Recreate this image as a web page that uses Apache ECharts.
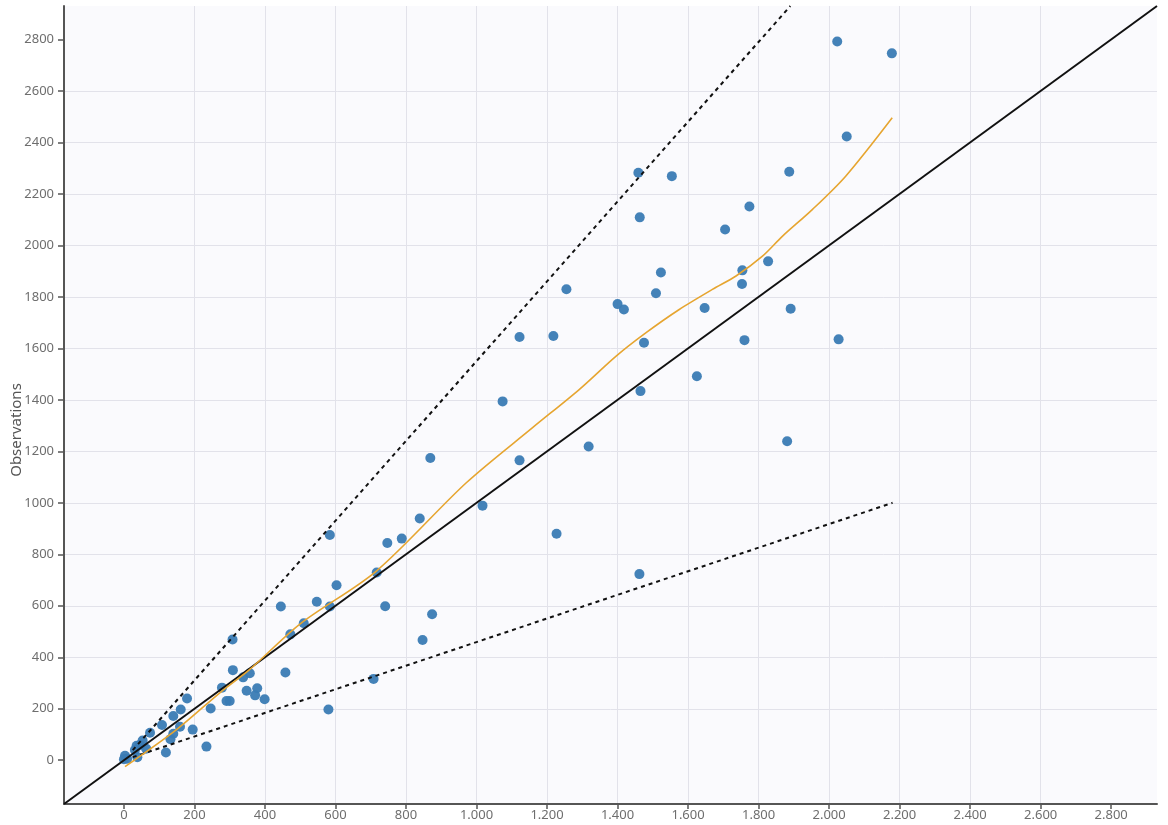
<!DOCTYPE html>
<html>
<head>
<meta charset="utf-8">
<script src="https://cdn.jsdelivr.net/npm/echarts/dist/echarts.min.js"></script>
<style>
html,body{margin:0;padding:0;background:#ffffff;}
#chart{width:1168px;height:825px;}
</style>
</head>
<body>
<div id="chart"></div>
<script>
// Axis settings
const axisMin = -170;
const axisMax = 2930;
const tickValues = [0,200,400,600,800,1000,1200,1400,1600,1800,2000,2200,2400,2600,2800];

// Scatter points: [prediction, observation]
const observations = [
  [2023,2792],[2178,2746],[2050,2423],[1459,2282],[1554,2269],[1887,2286],
  [1774,2151],[1463,2109],[1705,2062],[1827,1938],[1523,1895],[1754,1903],
  [1753,1850],[1255,1830],[1509,1814],[1400,1772],[1418,1751],[1647,1757],
  [1891,1754],[1122,1644],[1218,1648],[1475,1622],[1760,1632],[2027,1635],
  [1625,1492],[1465,1434],[1074,1394],[1318,1219],[1881,1239],[1122,1165],
  [869,1174],[1017,989],[1227,880],[1462,723],[584,875],[747,844],
  [788,861],[839,939],[717,729],[603,680],[547,616],[584,597],
  [741,598],[874,567],[510,532],[847,467],[708,316],[445,597],
  [472,489],[458,341],[580,197],[308,469],[309,350],[357,338],
  [338,322],[378,280],[348,270],[372,252],[399,237],[278,282],
  [291,230],[300,230],[246,201],[179,240],[161,197],[140,172],
  [108,137],[159,130],[195,119],[140,103],[132,82],[119,30],
  [234,53],[74,107],[53,77],[45,59],[36,56],[31,40],
  [38,12],[3,17],[9,6],[0,4],[63,45]
];

// Reference lines
const identityLine = [[-170,-170],[2930,2930]];
const upperBound = [[25,39],[1890,2930]];
const lowerBound = [[25,12],[2180,1000]];

// Smoothed trend (loess-like)
const trendLine = [
  [3,-25],[150,120],[272,262],[357,353],[500,530],[716,735],[971,1078],
  [1159,1292],[1292,1441],[1396,1570],[1481,1661],[1575,1751],[1669,1829],
  [1736,1881],[1811,1958],[1868,2036],[1953,2140],[2047,2269],[2179,2496]
];

function fmtThousands(v){
  return String(v).replace(/\B(?=(\d{3})+(?!\d))/g, '.');
}

const labelStyle = {color:'#6e6e6e', fontSize:13, fontFamily:'Noto Sans'};

const chart = echarts.init(document.getElementById('chart'), null, {renderer:'canvas'});
chart.setOption({
  animation:false,
  backgroundColor:'#ffffff',
  grid:{left:64,right:11,top:6,bottom:21,containLabel:false,outerBoundsMode:'none',show:true,backgroundColor:'#fafafd',borderWidth:0},
  xAxis:{
    type:'value', min:axisMin, max:axisMax,
    axisLine:{show:true,onZero:false,lineStyle:{color:'#555555',width:2}},
    axisTick:{show:true,length:5,customValues:tickValues,lineStyle:{color:'#555555',width:1.5}},
    axisLabel:Object.assign({margin:5,customValues:tickValues,formatter:v=>fmtThousands(v)},labelStyle),
    splitLine:{show:true,showMinLine:false,showMaxLine:false,lineStyle:{color:'#e2e2ea',width:1}}
  },
  yAxis:{
    type:'value', min:axisMin, max:axisMax,
    name:'Observations', nameLocation:'middle', nameGap:40, nameRotate:90, nameMoveOverlap:false,
    nameTextStyle:{color:'#555555',fontSize:15,fontFamily:'Noto Sans',padding:[0,50,0,0]},
    axisLine:{show:true,onZero:false,lineStyle:{color:'#555555',width:2}},
    axisTick:{show:true,length:6,customValues:tickValues,lineStyle:{color:'#555555',width:1.5}},
    axisLabel:Object.assign({margin:10,customValues:tickValues,formatter:v=>String(v)},labelStyle),
    splitLine:{show:true,showMinLine:false,showMaxLine:false,lineStyle:{color:'#e2e2ea',width:1}}
  },
  series:[
    {type:'scatter',data:observations,symbolSize:10,itemStyle:{color:'#3a7bb4',opacity:0.95},z:2},
    {type:'line',data:identityLine,showSymbol:false,symbol:'none',lineStyle:{color:'#111111',width:2},z:3},
    {type:'line',data:upperBound,showSymbol:false,symbol:'none',lineStyle:{color:'#111111',width:2,type:[4,4]},z:3},
    {type:'line',data:lowerBound,showSymbol:false,symbol:'none',lineStyle:{color:'#111111',width:2,type:[4,4]},z:3},
    {type:'line',data:trendLine,showSymbol:false,symbol:'none',smooth:0.3,lineStyle:{color:'#e6a530',width:1.6},z:4}
  ]
});
</script>
</body>
</html>
